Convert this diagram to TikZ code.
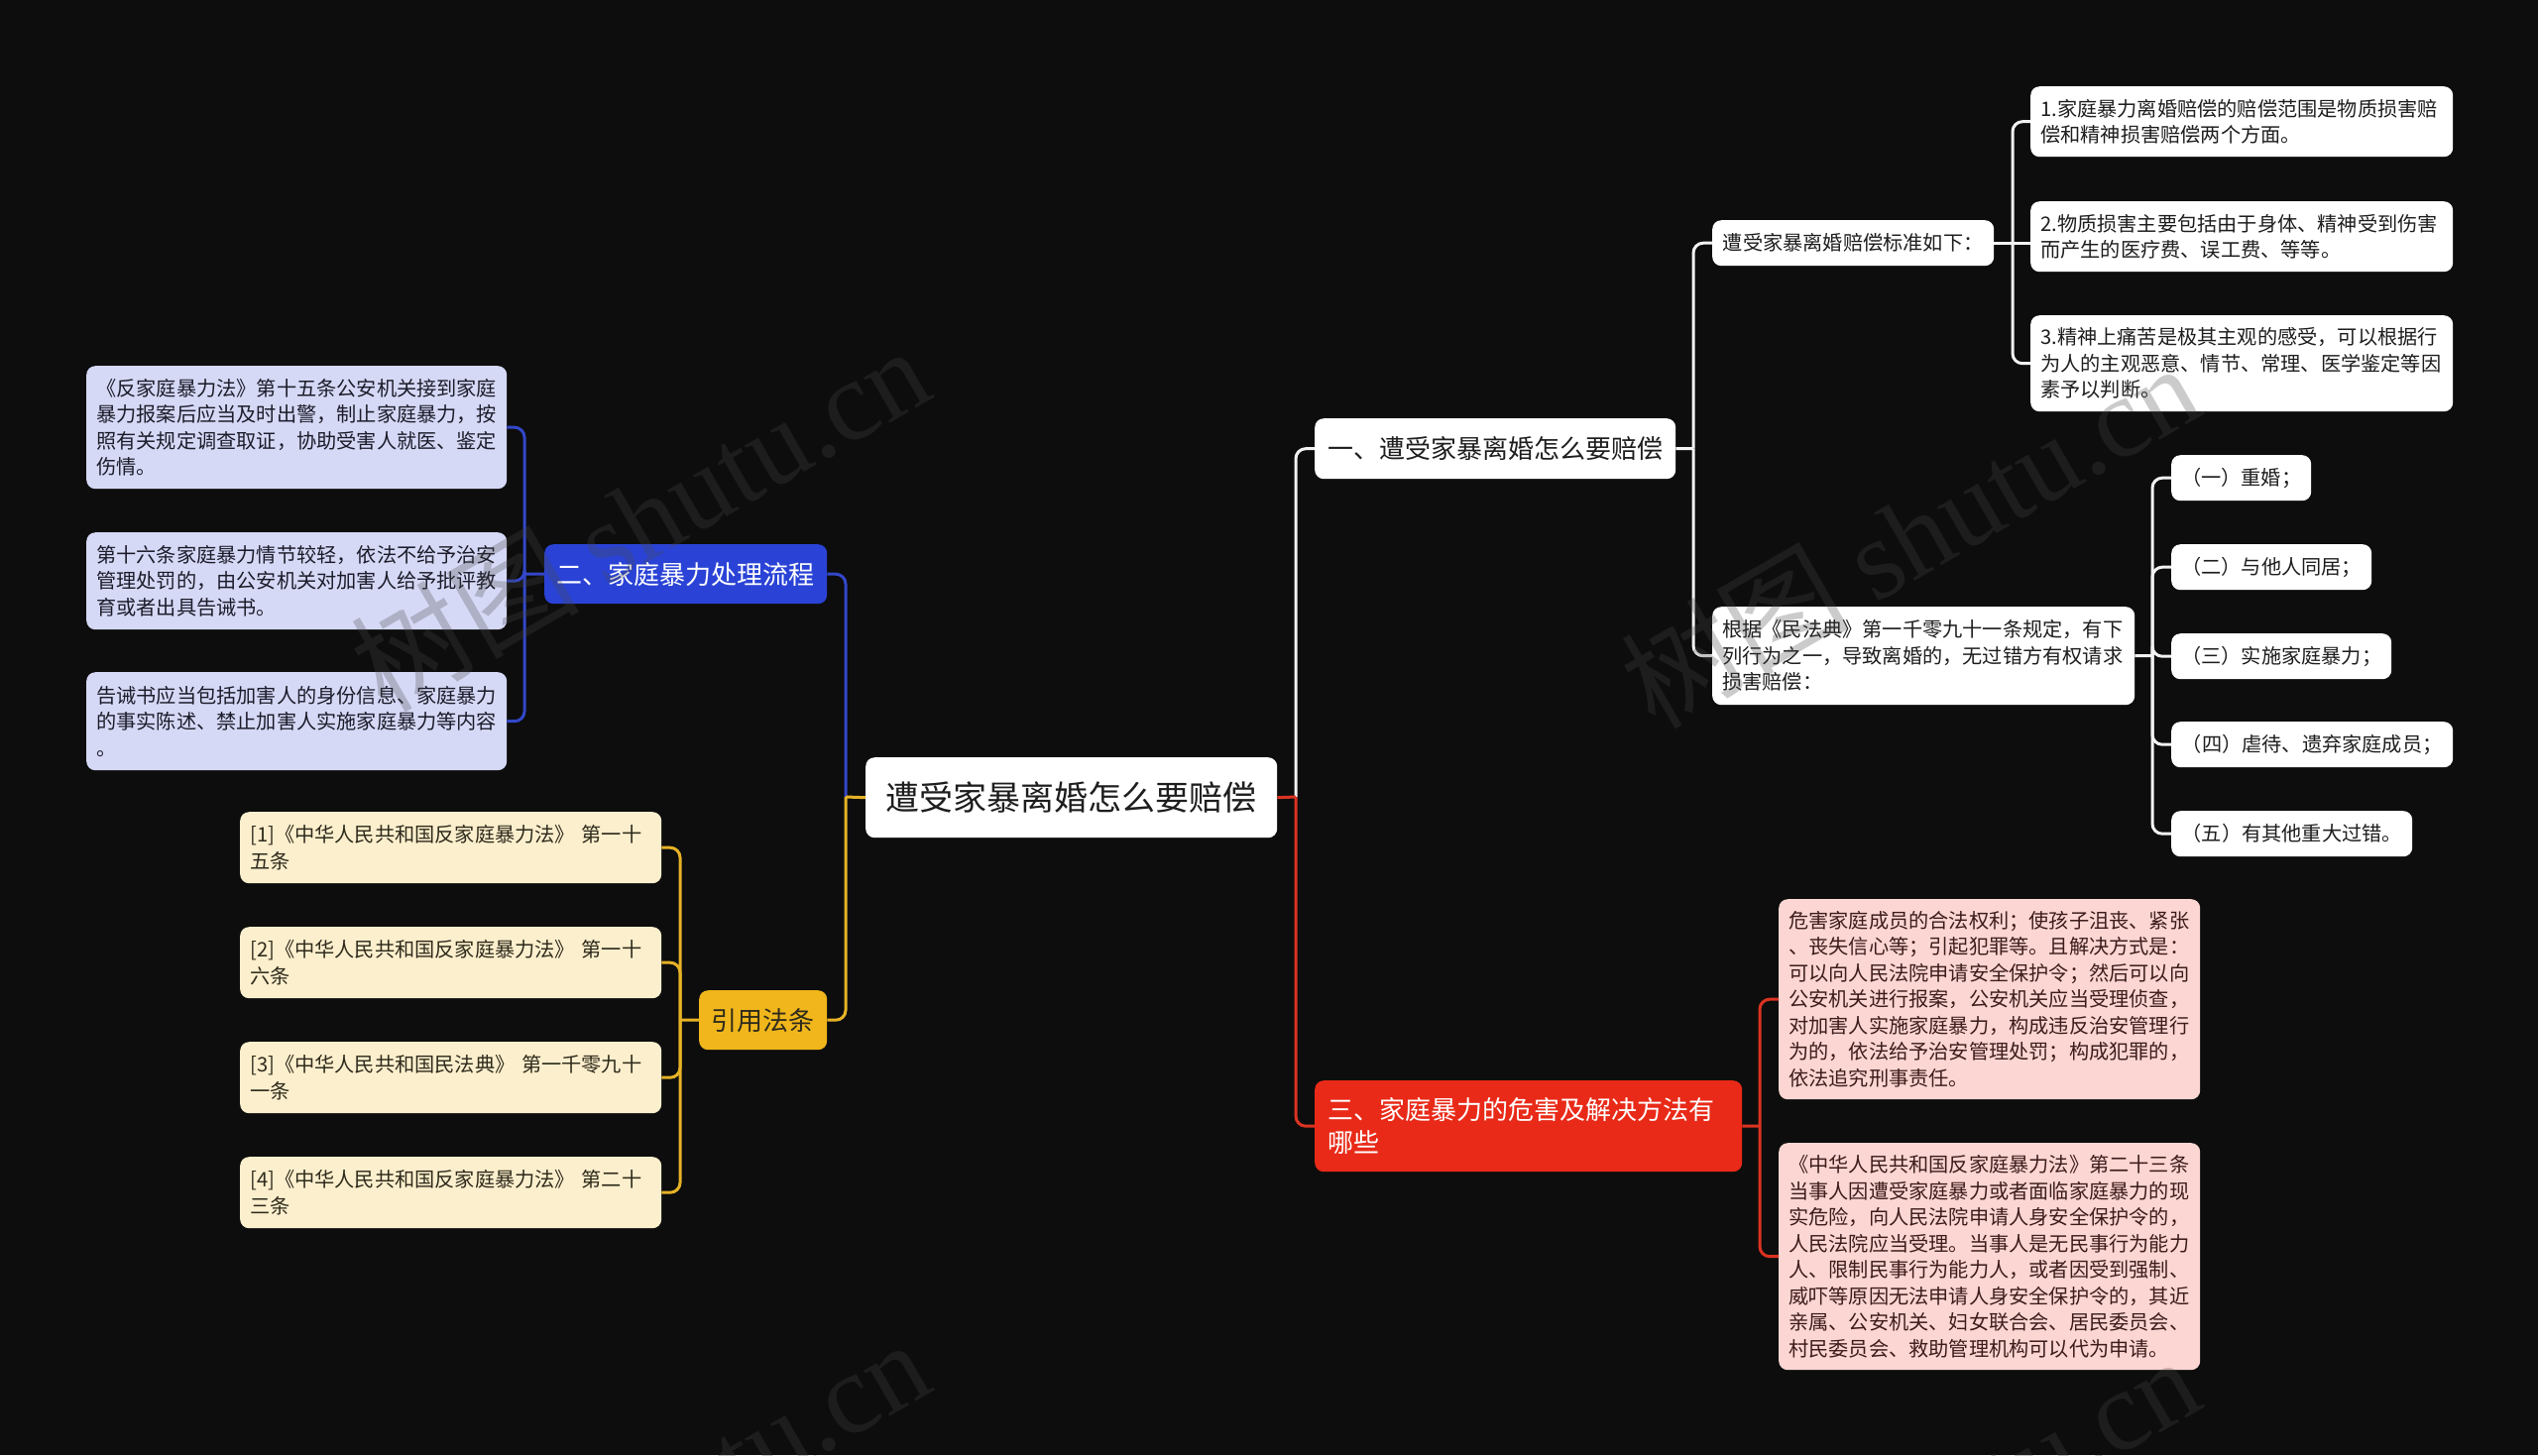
\documentclass[tikz,border=0pt]{standalone}
\usepackage{fontspec}
\setmainfont{Noto Sans CJK SC}
\newfontfamily\wmlatin{Liberation Serif}
\definecolor{bg}{HTML}{0D0D0D}
\definecolor{wline}{HTML}{F2F2F2}
\definecolor{wtext}{HTML}{1E1E1E}
\definecolor{bnode}{HTML}{2A43D6}
\definecolor{bleaf}{HTML}{D6D9F6}
\definecolor{bline}{HTML}{3347C9}
\definecolor{btext}{HTML}{1C1C2A}
\definecolor{rnode}{HTML}{E92A18}
\definecolor{rleaf}{HTML}{FBD6D2}
\definecolor{rline}{HTML}{DC3322}
\definecolor{rtext}{HTML}{3D1C1C}
\definecolor{ynode}{HTML}{F0B61B}
\definecolor{yleaf}{HTML}{FCEFCD}
\definecolor{yline}{HTML}{E6B226}
\definecolor{ytext}{HTML}{2E2A1C}
\definecolor{wm}{HTML}{474747}
\begin{document}
\begin{tikzpicture}[x=1pt,y=-1pt,
  box/.style={rounded corners=9pt, inner ysep=0pt, anchor=north west},
  leaf/.style={box, inner xsep=10pt, align=left, font=\fontsize{20.2}{26.5}\selectfont},
  small/.style={box, inner xsep=0pt, align=center, font=\fontsize{20.2}{26.5}\selectfont},
  lvl/.style={box, inner xsep=0pt, align=center, font=\fontsize{26}{32}\selectfont},
  conn/.style={line width=3pt, rounded corners=10pt},
  wleaf/.style={leaf, fill=white, text=wtext},
  bleafbox/.style={leaf, fill=bleaf, text=btext},
  rleafbox/.style={leaf, fill=rleaf, text=rtext},
  yleafbox/.style={leaf, fill=yleaf, text=ytext},
  wmark/.style={rotate=30, text=wm, text opacity=0.28, font=\fontsize{115}{115}\selectfont, inner sep=0pt}
]
\useasboundingbox (0,0) rectangle (2560,1468);
\fill[bg] (0,0) rectangle (2560,1468);

% ---------- root ----------
\node[box, fill=white, text=wtext, inner xsep=0pt, align=center, minimum width=415pt, minimum height=81pt,
  font=\fontsize{34}{40}\selectfont] (root) at (873,764) {遭受家暴离婚怎么要赔偿};

% ---------- branch 一 (white) ----------
\node[lvl, fill=white, text=wtext, minimum width=364pt, minimum height=61pt] (n1) at (1326,422) {一、遭受家暴离婚怎么要赔偿};
\node[small, fill=white, text=wtext, minimum width=284pt, minimum height=46pt] (std) at (1727,222) {遭受家暴离婚赔偿标准如下：};
\node[wleaf, minimum width=426pt, text width=406pt, minimum height=71pt] (w1) at (2048,87)
  {1.家庭暴力离婚赔偿的赔偿范围是物质损害赔\\偿和精神损害赔偿两个方面。};
\node[wleaf, minimum width=426pt, text width=406pt, minimum height=71pt] (w2) at (2048,203)
  {2.物质损害主要包括由于身体、精神受到伤害\\而产生的医疗费、误工费、等等。};
\node[wleaf, minimum width=426pt, text width=406pt, minimum height=97pt] (w3) at (2048,318)
  {3.精神上痛苦是极其主观的感受，可以根据行\\为人的主观恶意、情节、常理、医学鉴定等因\\素予以判断。};
\node[wleaf, minimum width=426pt, text width=406pt, minimum height=99pt] (law) at (1727,612)
  {根据《民法典》第一千零九十一条规定，有下\\列行为之一，导致离婚的，无过错方有权请求\\损害赔偿：};
\node[small, fill=white, text=wtext, minimum width=141pt, minimum height=46pt] (c1) at (2190,459) {（一）重婚；};
\node[small, fill=white, text=wtext, minimum width=202pt, minimum height=46pt] (c2) at (2190,549) {（二）与他人同居；};
\node[small, fill=white, text=wtext, minimum width=222pt, minimum height=46pt] (c3) at (2190,639) {（三）实施家庭暴力；};
\node[small, fill=white, text=wtext, minimum width=284pt, minimum height=46pt] (c4) at (2190,728) {（四）虐待、遗弃家庭成员；};
\node[small, fill=white, text=wtext, minimum width=243pt, minimum height=46pt] (c5) at (2190,818) {（五）有其他重大过错。};

% ---------- branch 三 (red) ----------
\node[box, fill=rnode, text=white, inner xsep=13pt, align=left, text width=405pt, minimum width=431pt, minimum height=92pt,
  font=\fontsize{26}{33}\selectfont] (n3) at (1326,1090) {三、家庭暴力的危害及解决方法有\\哪些};
\node[rleafbox, minimum width=425pt, text width=405pt, minimum height=202pt] (r1) at (1794,907)
  {危害家庭成员的合法权利；使孩子沮丧、紧张\\、丧失信心等；引起犯罪等。且解决方式是：\\可以向人民法院申请安全保护令；然后可以向\\公安机关进行报案，公安机关应当受理侦查，\\对加害人实施家庭暴力，构成违反治安管理行\\为的，依法给予治安管理处罚；构成犯罪的，\\依法追究刑事责任。};
\node[rleafbox, minimum width=425pt, text width=405pt, minimum height=229pt] (r2) at (1794,1153)
  {《中华人民共和国反家庭暴力法》第二十三条\\当事人因遭受家庭暴力或者面临家庭暴力的现\\实危险，向人民法院申请人身安全保护令的，\\人民法院应当受理。当事人是无民事行为能力\\人、限制民事行为能力人，或者因受到强制、\\威吓等原因无法申请人身安全保护令的，其近\\亲属、公安机关、妇女联合会、居民委员会、\\村民委员会、救助管理机构可以代为申请。};

% ---------- branch 二 (blue) ----------
\node[lvl, fill=bnode, text=white, minimum width=285pt, minimum height=60pt] (n2) at (549,549) {二、家庭暴力处理流程};
\node[bleafbox, minimum width=424pt, text width=404pt, minimum height=124pt] (b1) at (87,369)
  {《反家庭暴力法》第十五条公安机关接到家庭\\暴力报案后应当及时出警，制止家庭暴力，按\\照有关规定调查取证，协助受害人就医、鉴定\\伤情。};
\node[bleafbox, minimum width=424pt, text width=404pt, minimum height=98pt] (b2) at (87,537)
  {第十六条家庭暴力情节较轻，依法不给予治安\\管理处罚的，由公安机关对加害人给予批评教\\育或者出具告诫书。};
\node[bleafbox, minimum width=424pt, text width=404pt, minimum height=99pt] (b3) at (87,678)
  {告诫书应当包括加害人的身份信息、家庭暴力\\的事实陈述、禁止加害人实施家庭暴力等内容\\。};

% ---------- branch 引用法条 (yellow) ----------
\node[lvl, fill=ynode, text=ytext, minimum width=129pt, minimum height=60pt] (n4) at (705,999) {引用法条};
\node[yleafbox, minimum width=425pt, text width=405pt, minimum height=72pt] (y1) at (242,819)
  {[1]《中华人民共和国反家庭暴力法》 第一十\\五条};
\node[yleafbox, minimum width=425pt, text width=405pt, minimum height=72pt] (y2) at (242,935)
  {[2]《中华人民共和国反家庭暴力法》 第一十\\六条};
\node[yleafbox, minimum width=425pt, text width=405pt, minimum height=72pt] (y3) at (242,1051)
  {[3]《中华人民共和国民法典》 第一千零九十\\一条};
\node[yleafbox, minimum width=425pt, text width=405pt, minimum height=72pt] (y4) at (242,1167)
  {[4]《中华人民共和国反家庭暴力法》 第二十\\三条};

% ---------- connectors ----------
% root right side
\coordinate (jr) at (1307,804);
\draw[conn, wline] (jr) |- (n1.west);
\draw[conn, rline] (jr) |- (n3.west);
\draw[line width=3pt, rline] (root.east) -- (jr);
% root left side
\coordinate (jl) at (853,804);
\draw[conn, bline] (jl) |- (n2.east);
\draw[conn, yline] (jl) |- (n4.east);
\draw[line width=3pt, yline] (root.west) -- (jl);

% branch 一
\coordinate (j1) at (1708,452.5);
\draw[line width=3pt, wline] (n1.east) -- (j1);
\draw[conn, wline] (j1) |- (std.west);
\draw[conn, wline] (j1) |- (law.west);
% 标准
\coordinate (j2) at (2030,245);
\draw[line width=3pt, wline] (std.east) -- (w2.west |- std.east);
\draw[conn, wline] (j2) |- (w1.west);
\draw[conn, wline] (j2) |- (w3.west);
% 根据
\coordinate (j3) at (2171,661.5);
\draw[line width=3pt, wline] (law.east) -- (j3);
\draw[conn, wline] (j3) |- (c1.west);
\draw[conn, wline] (j3) |- (c2.west);
\draw[conn, wline] (j3) |- (c3.west);
\draw[conn, wline] (j3) |- (c4.west);
\draw[conn, wline] (j3) |- (c5.west);

% branch 三
\coordinate (j4) at (1775,1136);
\draw[line width=3pt, rline] (n3.east) -- (j4);
\draw[conn, rline] (j4) |- (r1.west);
\draw[conn, rline] (j4) |- (r2.west);

% branch 二
\coordinate (j5) at (529,579);
\draw[line width=3pt, bline] (n2.west) -- (j5);
\draw[conn, bline] (j5) |- (b1.east);
\draw[conn, bline] (j5) |- (b2.east);
\draw[conn, bline] (j5) |- (b3.east);

% branch 引用法条
\coordinate (j6) at (686,1029);
\draw[line width=3pt, yline] (n4.west) -- (j6);
\draw[conn, yline] (j6) |- (y1.east);
\draw[conn, yline] (j6) |- (y2.east);
\draw[conn, yline] (j6) |- (y3.east);
\draw[conn, yline] (j6) |- (y4.east);

% ---------- watermark ----------
\begin{scope}
\clip (0,0) rectangle (2560,1468);
\node[wmark] (wm1) at (645,522) {树图 {\wmlatin shutu.cn}};
\node[wmark] (wm2) at (1926,539) {树图 {\wmlatin shutu.cn}};
\node[wmark] (wm3) at (645,1524) {树图 {\wmlatin shutu.cn}};
\node[wmark] (wm4) at (1926,1541) {树图 {\wmlatin shutu.cn}};
\end{scope}
\end{tikzpicture}
\end{document}
